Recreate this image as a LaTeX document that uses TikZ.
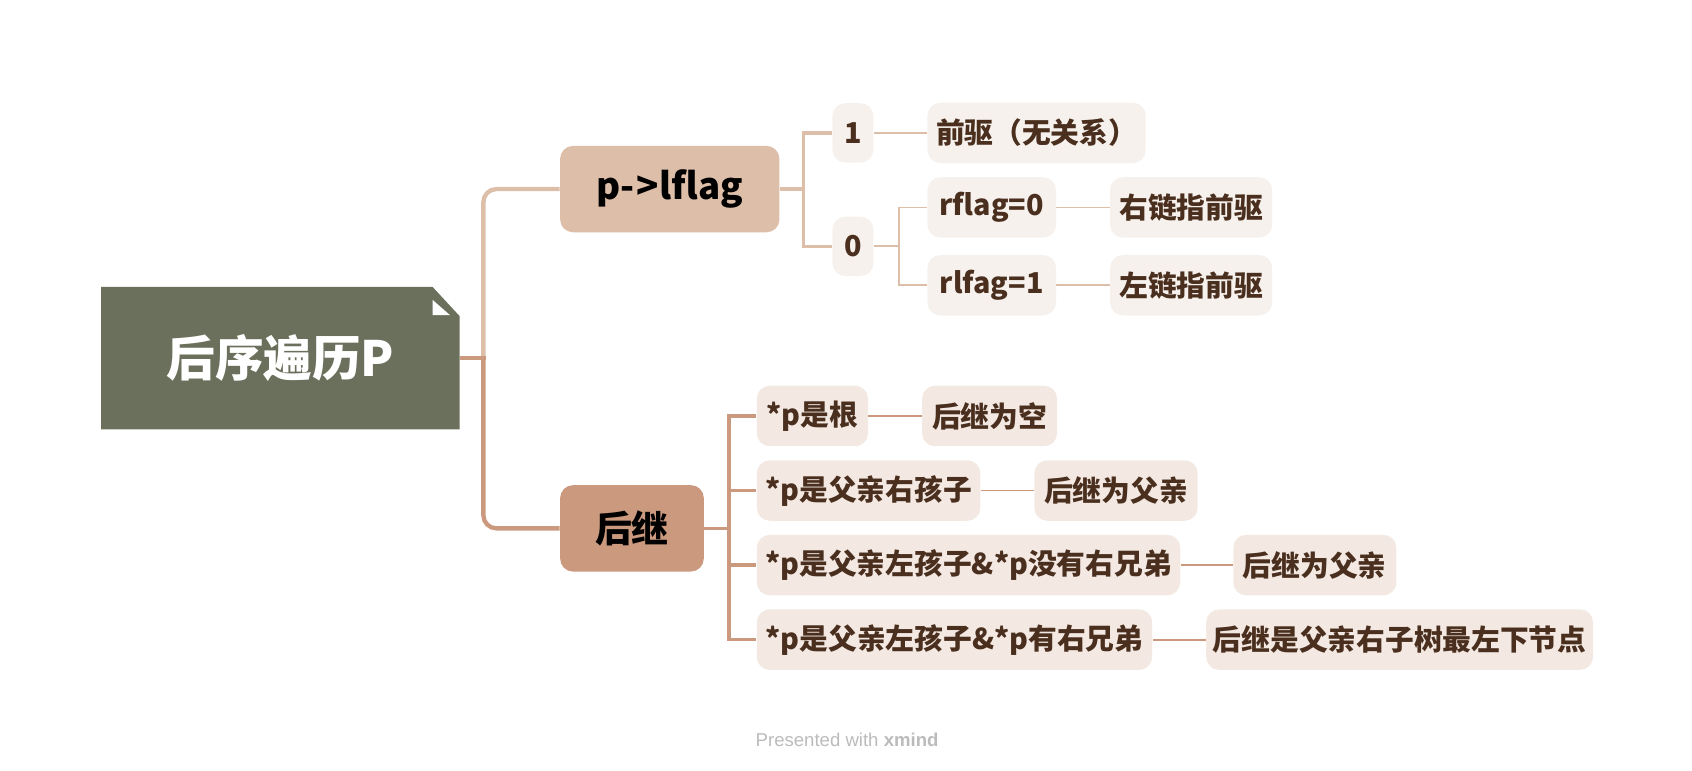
\documentclass[tikz,border=0pt]{standalone}
\usepackage{fontspec}
\newfontfamily\cjk{Noto Sans CJK SC}
\newfontfamily\latinsans{Liberation Sans}
\usetikzlibrary{calc,backgrounds}
\definecolor{rootc}{HTML}{6B705C}
\definecolor{ctwo}{HTML}{DDBEA9}
\definecolor{cthree}{HTML}{CB997E}
\definecolor{leafa}{HTML}{F6F1EC}
\definecolor{leafb}{HTML}{F3E9E2}
\definecolor{txt}{HTML}{4A2F1F}
\definecolor{foot}{HTML}{BBBBBB}
\begin{document}
\begin{tikzpicture}[x=0.5pt,y=-0.5pt,
  leaf/.style={rounded corners=6pt, inner sep=0pt, anchor=west, text=txt,
    font=\cjk\bfseries\fontsize{13.3pt}{15pt}\selectfont, minimum height=28pt},
  leafu/.style={leaf, fill=leafa},
  leafl/.style={leaf, fill=leafb},
  main/.style={rounded corners=6pt, inner sep=0pt, anchor=west, text=black,
    font=\cjk\bfseries\fontsize{17pt}{20pt}\selectfont, minimum height=40pt},
  bigline/.style={line width=2pt},
  midline/.style={line width=1.5pt},
  thinline/.style={line width=0.8pt},
]
\useasboundingbox (0,0) rectangle (1566,712.7);

% root
\node[inner sep=0pt, minimum width=165.5pt, minimum height=65.5pt, text=white,
  font=\cjk\bfseries\fontsize{22.5pt}{26pt}\selectfont] (root) at (259.5,331.5) {后序遍历P};
\begin{pgfonlayer}{background}
\fill[rootc] (root.north west) -- ($(root.north east)+(-25,0)$) -- ($(root.north east)+(0,27)$)
  -- (root.south east) -- (root.south west) -- cycle;
\fill[white] ($(root.north east)+(-25,12)$) -- ($(root.north east)+(-25,26)$) -- ($(root.north east)+(-9,26)$) -- cycle;
\end{pgfonlayer}

% main topics
\node[main, fill=ctwo, minimum width=101.5pt] (lflag) at (518,175) {p-\kern1pt>lflag};
\node[main, fill=cthree, minimum width=66.5pt] (hj) at (518,489) {后继};

% upper subtree
\node[leafu, minimum width=19pt, minimum height=27.5pt] (one) at (770,123) {1};
\node[leafu, minimum width=19pt, minimum height=27.5pt] (zero) at (770,228) {0};
\node[leafu, minimum width=101pt] (qq) at (858,123) {前驱（无关系）};
\node[leafu, minimum width=59.5pt] (rf) at (858,192) {rflag=0};
\node[leafu, minimum width=59.5pt] (rl) at (858,264) {rlfag=1};
\node[leafu, minimum width=75pt] (yl) at (1027,192) {右链指前驱};
\node[leafu, minimum width=75pt] (zl) at (1027,264) {左链指前驱};

% lower subtree
\node[leafl, minimum width=51.5pt] (s1) at (700,385) {*p是根};
\node[leafl, minimum width=62.5pt] (t1) at (853,385) {后继为空};
\node[leafl, minimum width=103.5pt] (s2) at (700,454) {*p是父亲右孩子};
\node[leafl, minimum width=75.5pt] (t2) at (957,454) {后继为父亲};
\node[leafl, minimum width=196pt] (s3) at (700,523) {*p是父亲左孩子\&*p没有右兄弟};
\node[leafl, minimum width=75.5pt] (t3) at (1141,523) {后继为父亲};
\node[leafl, minimum width=183pt] (s4) at (700,592) {*p是父亲左孩子\&*p有右兄弟};
\node[leafl, minimum width=179pt] (t4) at (1116,592) {后继是父亲右子树最左下节点};

% connectors from root
\coordinate (j) at ($(root.east)+(22,0)$);
\draw[bigline, ctwo, rounded corners=6pt] (j) |- (lflag.west);
\draw[bigline, cthree, rounded corners=6pt] (j) |- (hj.west);
\draw[bigline, cthree] (root.east) -- ([xshift=1pt]j);

% connectors upper
\coordinate (k) at ($(lflag.east)+(22,0)$);
\draw[midline, ctwo] (lflag.east) -- (k);
\draw[midline, ctwo] (k) |- (one.west);
\draw[midline, ctwo] (k) |- (zero.west);
\draw[thinline, ctwo] (one.east) -- (qq.west);
\coordinate (m) at ($(zero.east)+(23,0)$);
\draw[thinline, ctwo] (zero.east) -- (m);
\draw[thinline, ctwo] (m) |- (rf.west);
\draw[thinline, ctwo] (m) |- (rl.west);
\draw[thinline, ctwo] (rf.east) -- (yl.west);
\draw[thinline, ctwo] (rl.east) -- (zl.west);

% connectors lower
\coordinate (n) at ($(hj.east)+(23,0)$);
\draw[midline, cthree] (hj.east) -- (n);
\draw[midline, cthree] (n) |- (s1.west);
\draw[midline, cthree] (n) |- (s2.west);
\draw[midline, cthree] (n) |- (s3.west);
\draw[midline, cthree] (n) |- (s4.west);
\draw[thinline, cthree] (s1.east) -- (t1.west);
\draw[thinline, cthree] (s2.east) -- (t2.west);
\draw[thinline, cthree] (s3.east) -- (t3.west);
\draw[thinline, cthree] (s4.east) -- (t4.west);

% footer
\node[text=foot, font=\latinsans\fontsize{8.6pt}{10pt}\selectfont] (pw) at (784,685) {Presented with \textbf{xmind}};
\end{tikzpicture}
\end{document}
